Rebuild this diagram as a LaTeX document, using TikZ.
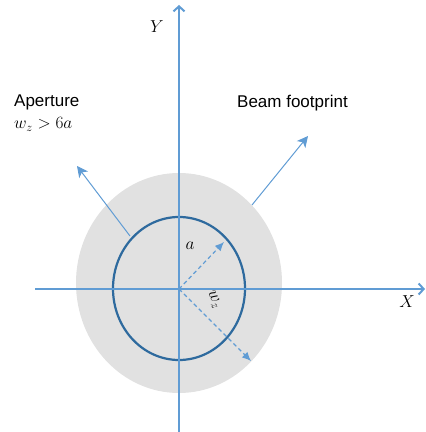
\documentclass[tikz,border=0pt]{standalone}
\usepackage{amsmath,amssymb}
\usepackage{fontspec}
\setsansfont{Liberation Sans}
\usetikzlibrary{arrows.meta}

\begin{document}
\begin{tikzpicture}[x=1pt, y=1pt]
    \definecolor{axisblue}{RGB}{96,156,212}
    \definecolor{ringblue}{RGB}{46,106,158}
    \definecolor{beamgray}{RGB}{225,225,225}
    \tikzset{
        axisline/.style={axisblue, line width=1.2pt, -{Straight Barb[length=5pt, width=11pt, line width=2pt]}},
        pointer/.style={axisblue, line width=1pt, -{Stealth[length=11pt, width=11pt, inset=3pt]}},
        radius/.style={axisblue, line width=1.2pt, dashed, dash pattern=on 4pt off 3pt, -{Latex[length=9pt, width=8pt]}},
        caption/.style={font=\sffamily\fontsize{17}{20}\selectfont, inner sep=0pt, anchor=base west},
        mathlabel/.style={font=\fontsize{16}{18}\selectfont, inner sep=0pt}
    }
    \useasboundingbox (0,0) rectangle (426,432);

    % beam footprint and aperture
    \fill[beamgray] (179,149) ellipse [x radius=103, y radius=110];
    \draw[ringblue, line width=2.2pt] (179,143.5) ellipse [x radius=66, y radius=71.5];

    % reference points
    \coordinate (O) at (179,143);
    \coordinate (ybot) at (179,0);
    \coordinate (ytop) at (179,427);
    \coordinate (xleft) at (35,143);
    \coordinate (xright) at (425,143);
    \coordinate (aend) at (224,190);
    \coordinate (wend) at (251,71);
    \coordinate (apfoot) at (130,196);
    \coordinate (aptip) at (77,266);
    \coordinate (bmfoot) at (252,227);
    \coordinate (bmtip) at (308,296);

    % axes
    \draw[axisline] (ybot) -- (ytop);
    \draw[axisline] (xleft) -- (xright);
    \node[mathlabel] (ylab) at (157,405) {$Y$};
    \node[mathlabel] (xlab) at (407,130) {$X$};

    % radii
    \draw[radius] (O) -- (aend);
    \draw[radius] (O) -- (wend);
    \node[mathlabel, font=\fontsize{18}{20}\selectfont] (alab) at (190,186) {$a$};
    \node[mathlabel, font=\fontsize{17}{20}\selectfont, rotate=-65] (wlab) at (214,132) {$w_z$};

    % pointers to labels
    \draw[pointer] (apfoot) -- (aptip);
    \draw[pointer] (bmfoot) -- (bmtip);
    \node[caption] (aperture) at (14,325) {Aperture};
    \node[caption, font=\fontsize{17}{20}\selectfont] (cond) at (14,303) {$w_z > 6a$};
    \node[caption] (footprint) at (237,324) {Beam footprint};
\end{tikzpicture}
\end{document}
